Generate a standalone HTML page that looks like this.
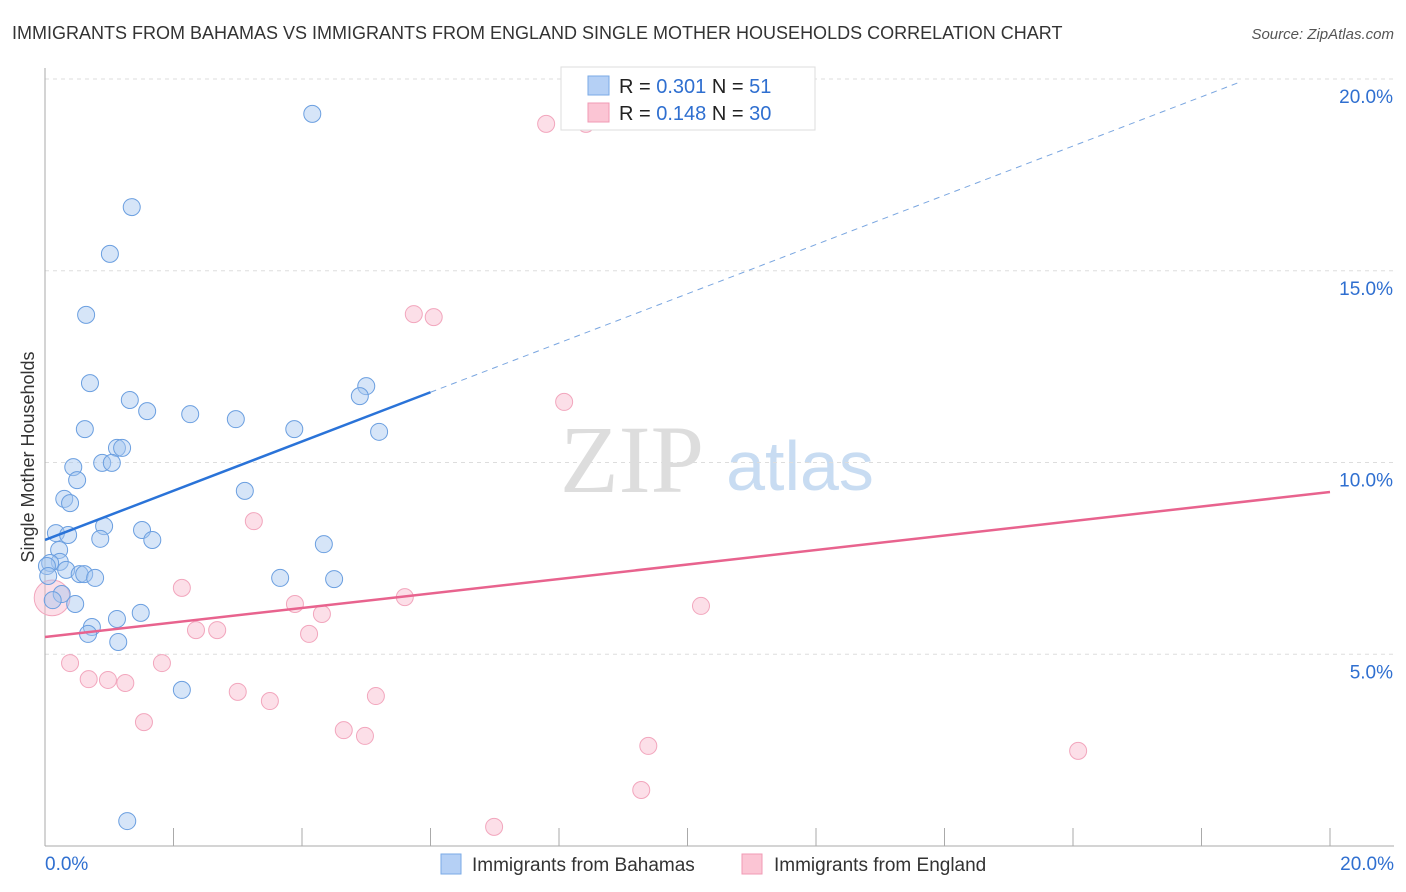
<!DOCTYPE html>
<html><head><meta charset="utf-8"><style>
body{margin:0;background:#fff;font-family:"Liberation Sans",sans-serif;}
svg{display:block}
</style></head><body>
<svg id="chart" width="1406" height="892">
<text x="12" y="39" font-size="18" fill="#333">IMMIGRANTS FROM BAHAMAS VS IMMIGRANTS FROM ENGLAND SINGLE MOTHER HOUSEHOLDS CORRELATION CHART</text>
<text x="1394" y="39" font-size="15" fill="#555" text-anchor="end" font-style="italic">Source: ZipAtlas.com</text>
<text x="632" y="492" font-size="96" fill="#ddd" font-family="Liberation Serif,serif" text-anchor="middle">ZIP</text>
<text x="800" y="490" font-size="70" fill="#c8dcf2" text-anchor="middle">atlas</text>
<text transform="translate(34,457) rotate(-90)" font-size="18" fill="#333" text-anchor="middle">Single Mother Households</text>
<g id="grid"></g><g id="marks"></g>
<g>
<rect x="561" y="67" width="254" height="63" fill="#fff" stroke="#ddd"/>
<rect x="588" y="76" width="21" height="19" fill="#b5d0f5" stroke="#7aaae6"/>
<rect x="588" y="103" width="21" height="19" fill="#fbc5d4" stroke="#f09ab4"/>
<text x="619" y="93" font-size="20" fill="#222">R = <tspan fill="#2f6fd0">0.301</tspan>   N =  <tspan fill="#2f6fd0">51</tspan></text>
<text x="619" y="120" font-size="20" fill="#222">R = <tspan fill="#2f6fd0">0.148</tspan>   N = <tspan fill="#2f6fd0">30</tspan></text>
</g>
<g>
<rect x="441" y="854" width="20" height="20" fill="#b5d0f5" stroke="#7aaae6"/>
<text x="472" y="871" font-size="19" fill="#333">Immigrants from Bahamas</text>
<rect x="742" y="854" width="20" height="20" fill="#fbc5d4" stroke="#f09ab4"/>
<text x="774" y="871" font-size="19" fill="#333">Immigrants from England</text>
</g>
</svg>
<script>
const yTicks=[5,10,15,20];
const yTickLabels=["5.0%","10.0%","15.0%","20.0%"];
const xTicks=[0,2,4,6,8,10,12,14,16,18,20];
const bahamasX=[4.16,1.35,1.01,0.64,0.70,1.32,1.59,2.26,2.97,5.00,4.90,3.88,5.20,0.62,1.12,1.20,0.89,1.04,0.44,0.50,0.30,0.39,3.11,0.92,0.17,0.36,1.51,0.86,1.67,4.34,0.22,0.23,0.08,0.03,0.33,0.54,0.61,0.78,3.66,4.50,0.26,0.12,0.47,0.73,1.12,1.49,0.67,1.14,2.13,1.28,0.05];
const bahamasY=[19.09,16.66,15.44,13.85,12.07,11.63,11.34,11.26,11.13,11.99,11.73,10.87,10.80,10.87,10.38,10.38,9.99,9.99,9.88,9.54,9.05,8.94,9.26,8.34,8.16,8.11,8.24,8.01,7.98,7.87,7.72,7.41,7.38,7.30,7.20,7.09,7.09,6.99,6.99,6.96,6.57,6.41,6.31,5.71,5.92,6.08,5.53,5.32,4.07,0.65,7.04];
const englandX=[7.80,8.42,5.74,6.05,8.08,3.25,2.13,5.60,10.21,3.89,4.31,2.35,2.68,4.11,0.11,0.39,1.82,0.68,0.98,1.25,3.00,3.50,5.15,1.54,4.65,4.98,9.39,16.08,9.28,6.99];
const englandY=[18.83,18.83,13.87,13.79,11.58,8.47,6.73,6.49,6.26,6.31,6.05,5.63,5.63,5.53,6.47,4.77,4.77,4.35,4.33,4.25,4.02,3.78,3.91,3.23,3.02,2.87,2.61,2.48,1.46,0.50];
const englandSize=[1,1,1,1,1,1,1,1,1,1,1,1,1,1,2.1,1,1,1,1,1,1,1,1,1,1,1,1,1,1,1];
const bahamasTrend=[7.98,0.642];  // intercept, slope
const englandTrend=[5.45,0.189];
const xs=v=>45+v*64.25, ys=v=>846-v*38.35;
const NS="http://www.w3.org/2000/svg";
const grid=document.getElementById('grid'), marks=document.getElementById('marks');
function mk(p,tag,a){const e=document.createElementNS(NS,tag);for(const k in a)e.setAttribute(k,a[k]);p.appendChild(e);return e;}
yTicks.forEach((t,i)=>{
 const l=mk(grid,'line',{x1:45,x2:1394,y1:ys(t),y2:ys(t),stroke:'#ddd','stroke-dasharray':'4,4'});
 
 
 const tx=mk(grid,'text',{x:1393,y:ys(t)+24,'font-size':19,fill:'#2f6fd0','text-anchor':'end'});
 tx.textContent=yTickLabels[i];
 
 
});
const ax=mk(grid,'line',{x1:45,x2:45,y1:68,y2:846,stroke:'#aaa'});


const bx=mk(grid,'line',{x1:45,x2:1394,y1:846,y2:846,stroke:'#aaa'});


xTicks.forEach(t=>{
 const l=mk(grid,'line',{x1:xs(t),x2:xs(t),y1:828,y2:846,stroke:'#aaa'});
 
 
});
[[0,'0.0%','start',45],[20,'20.0%','end',1394]].forEach(d=>{
 const tx=mk(grid,'text',{x:d[3],y:870,'font-size':19,fill:'#2f6fd0','text-anchor':d[2]});
 tx.textContent=d[1];
 
 
});
englandX.forEach((x,i)=>{
 const c=mk(marks,'circle',{cx:xs(x),cy:ys(englandY[i]),r:8.5*englandSize[i],fill:'rgba(248,185,205,0.45)',stroke:'#f2a6bd','stroke-width':1});
 
 
});
bahamasX.forEach((x,i)=>{
 const c=mk(marks,'circle',{cx:xs(x),cy:ys(bahamasY[i]),r:8.5,fill:'rgba(165,198,240,0.45)',stroke:'#6b9fe0','stroke-width':1});
 
 
});
const bEnd=6.0;
const bl=mk(marks,'line',{x1:xs(0),y1:ys(bahamasTrend[0]),x2:xs(bEnd),y2:ys(bahamasTrend[0]+bahamasTrend[1]*bEnd),stroke:'#2a73d8','stroke-width':2.5});


const bEnd2=18.6;
const bd=mk(marks,'line',{x1:xs(bEnd),y1:ys(bahamasTrend[0]+bahamasTrend[1]*bEnd),x2:xs(bEnd2),y2:ys(bahamasTrend[0]+bahamasTrend[1]*bEnd2),stroke:'#7aa6e0','stroke-width':1,'stroke-dasharray':'6,5'});


const el=mk(marks,'line',{x1:xs(0),y1:ys(englandTrend[0]),x2:xs(20),y2:ys(englandTrend[0]+englandTrend[1]*20),stroke:'#e8638e','stroke-width':2.5});


</script>
</body></html>
